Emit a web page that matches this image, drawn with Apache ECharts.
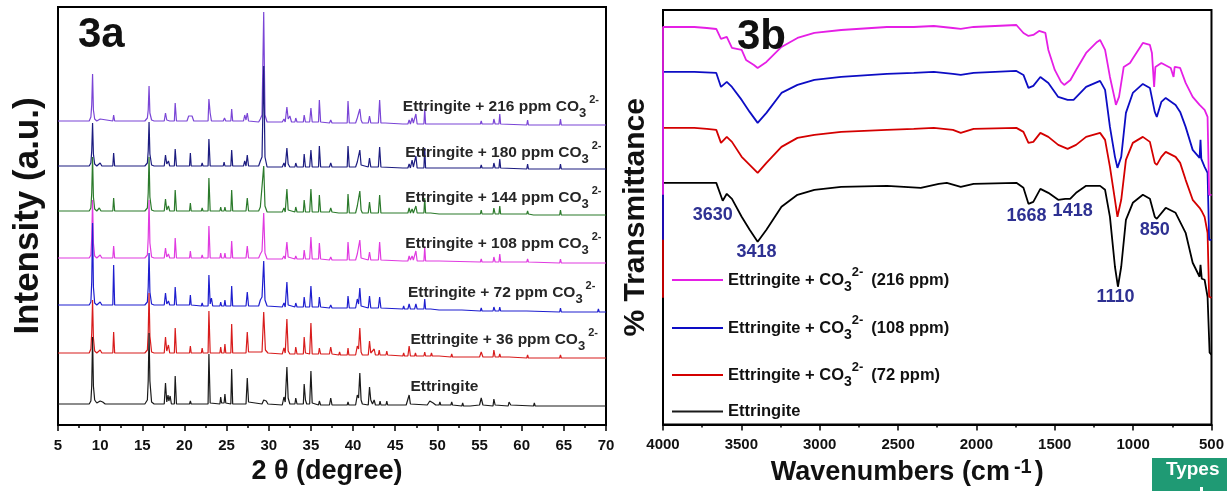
<!DOCTYPE html>
<html><head><meta charset="utf-8">
<script src="https://cdn.jsdelivr.net/npm/echarts/dist/echarts.min.js"></script>
<style>html,body{margin:0;padding:0;background:#fff}#c{width:1227px;height:491px}</style>
</head><body><div id="c"></div><script>
const FONT = 'Liberation Sans, Arial, Helvetica, sans-serif';

// ---------- Fig 3a : XRD patterns [2theta, intensity (a.u.)] ----------
const xrd_0 = [[5,2],[8.7,2],[8.9,5],[9.0,20],[9.1,69],[9.2,20],[9.35,6],[9.6,3],[10.0,5],[10.3,4],[10.6,2],[11.5,2],[11.6,4],[11.7,2],[15.3,2],[15.6,6],[15.7,25],[15.8,73],[15.9,25],[16.1,4],[16.4,2],[17.6,2],[17.75,23],[17.9,4],[18.05,11],[18.15,5],[18.3,10],[18.45,2],[18.8,2],[18.9,30],[19.05,2],[20.6,2],[20.7,5],[20.8,2],[22.0,2],[22.1,4],[22.2,2],[22.8,2],[22.9,52],[23.05,3],[24.2,2],[24.3,9],[24.4,3],[24.7,3],[24.8,12],[24.9,3],[25.5,2],[25.6,37],[25.72,2],[27.3,2],[27.45,28],[27.6,4],[27.8,2],[29.2,2],[29.4,6],[29.7,5],[29.9,2],[31.6,1],[31.8,9],[31.95,4],[32.15,39],[32.3,8],[32.5,2],[33.1,2],[33.2,8],[33.35,2],[34.1,2],[34.2,22],[34.35,6],[34.5,2],[34.85,2],[35.0,35],[35.15,3],[35.9,1],[36.0,5],[36.15,1],[37.2,1],[37.35,8],[37.5,1],[38.3,1],[38.4,3],[38.5,1],[39.3,1],[39.4,4],[39.5,1],[40.3,1],[40.5,11],[40.65,8],[40.8,33],[40.95,6],[41.1,2],[41.8,1],[41.95,19],[42.1,6],[42.3,2],[42.5,6],[42.65,1],[43.1,1],[43.2,5],[43.3,1],[43.9,1],[44.0,5],[44.1,1],[45.9,1],[46.1,3],[46.3,1],[46.5,2],[46.65,11],[46.8,2],[48.8,1],[49.1,5],[49.3,7],[49.5,3],[49.8,1],[50.2,1],[50.3,4],[50.4,1],[51.6,1],[51.7,4],[51.8,1],[52.9,0],[53.0,3],[53.1,0],[53.9,0],[54.0,2],[54.1,0],[55.0,1],[55.2,8],[55.4,1],[56.6,0],[56.7,7],[56.85,1],[58.4,0],[58.5,4],[58.7,1],[61.4,0],[61.5,3],[61.6,0],[61.9,0],[62.0,2],[62.1,0],[63.5,0],[63.6,2],[63.7,0],[67.4,0],[67.5,1],[67.6,0],[69.0,0],[69.1,2],[69.2,0],[70,0]];
const xrd_36 = [[5,5],[8.7,5],[8.9,9],[9.0,25],[9.1,58],[9.2,20],[9.35,7],[9.6,5],[10.0,8],[10.2,5],[11.5,5],[11.6,26],[11.72,5],[15.3,5],[15.6,8],[15.7,25],[15.8,65],[15.9,22],[16.1,6],[16.4,5],[17.6,5],[17.75,21],[17.9,7],[18.1,13],[18.25,5],[18.8,5],[18.9,30],[19.05,5],[20.6,5],[20.7,12],[20.8,5],[22.0,5],[22.1,10],[22.2,5],[22.8,5],[22.9,47],[23.05,5],[24.2,5],[24.3,11],[24.4,5],[24.7,5],[24.8,14],[24.9,5],[25.5,5],[25.6,34],[25.72,5],[27.3,5],[27.45,26],[27.6,6],[27.8,5],[29.2,6],[29.4,46],[29.6,8],[29.9,5],[31.6,4],[31.8,10],[31.95,5],[32.15,39],[32.3,7],[32.5,4],[33.1,4],[33.2,11],[33.35,4],[34.1,4],[34.2,21],[34.35,5],[34.85,4],[35.0,35],[35.15,4],[35.9,4],[36.0,10],[36.15,4],[37.2,4],[37.35,11],[37.5,4],[38.3,3],[38.4,6],[38.5,3],[39.3,3],[39.4,10],[39.5,3],[40.3,3],[40.5,12],[40.65,9],[40.8,30],[40.95,6],[41.1,3],[41.8,3],[41.95,17],[42.1,5],[42.3,3],[42.5,9],[42.65,3],[43.0,3],[43.1,8],[43.2,3],[43.9,3],[44.0,7],[44.1,3],[45.9,2],[46.0,5],[46.1,2],[46.5,2],[46.65,12],[46.8,2],[47.3,2],[47.4,5],[47.5,2],[48.4,2],[48.5,6],[48.6,2],[49.2,2],[49.3,5],[49.4,2],[50.2,2],[50.3,4],[50.4,2],[51.6,1],[51.7,4],[51.8,1],[52.9,1],[53.0,3],[53.1,1],[55.0,1],[55.2,6],[55.4,1],[56.6,1],[56.7,8],[56.85,1],[57.3,1],[57.4,4],[57.5,1],[58.5,1],[58.6,3],[58.7,1],[60.6,0],[60.7,3],[60.8,0],[61.4,0],[61.5,2],[61.6,0],[64.5,0],[64.6,3],[64.7,0],[69.0,0],[69.1,2],[69.2,0],[70,0]];
const xrd_72 = [[5,7],[8.7,7],[8.9,10],[9.0,30],[9.1,89],[9.2,25],[9.35,9],[9.6,7],[10.0,10],[10.2,7],[11.5,7],[11.6,47],[11.72,7],[15.3,7],[15.6,10],[15.7,25],[15.8,59],[15.9,20],[16.1,8],[16.4,7],[17.6,7],[17.75,19],[17.9,8],[18.1,11],[18.25,7],[18.8,7],[18.9,25],[19.05,7],[20.6,7],[20.7,17],[20.8,7],[22.0,6],[22.1,9],[22.2,6],[22.8,6],[22.9,37],[23.05,8],[23.2,14],[23.35,6],[24.2,6],[24.3,10],[24.4,6],[24.7,6],[24.8,12],[24.9,6],[25.5,6],[25.6,26],[25.72,6],[27.3,6],[27.45,20],[27.6,6],[28.8,6],[29.0,12],[29.2,15],[29.4,51],[29.55,12],[29.8,6],[31.6,5],[31.8,9],[31.95,5],[32.15,30],[32.3,7],[32.5,5],[33.1,5],[33.2,9],[33.35,5],[34.1,5],[34.2,15],[34.35,5],[34.85,5],[35.0,26],[35.15,5],[35.9,5],[36.0,15],[36.15,5],[37.2,4],[37.35,7],[37.5,4],[39.3,4],[39.4,16],[39.55,4],[40.3,4],[40.5,13],[40.65,8],[40.8,24],[40.95,6],[41.1,4],[41.8,4],[41.95,16],[42.1,4],[43.0,4],[43.15,15],[43.3,4],[45.9,3],[46.0,6],[46.1,3],[46.5,3],[46.65,8],[46.8,3],[47.3,3],[47.45,8],[47.6,3],[48.4,3],[48.5,13],[48.6,3],[49.2,3],[49.3,5],[49.4,2],[50.2,2],[50.3,4],[50.4,2],[51.6,2],[51.7,4],[51.8,2],[52.9,2],[53.0,3],[53.1,2],[55.1,1],[55.2,4],[55.3,1],[56.6,1],[56.7,5],[56.85,1],[57.3,1],[57.4,5],[57.5,1],[58.5,1],[58.6,2],[58.7,1],[60.6,1],[60.7,3],[60.8,1],[64.5,0],[64.6,4],[64.7,0],[69.0,0],[69.1,3],[69.2,0],[70,0]];
const xrd_108 = [[5,5],[8.7,5],[8.9,8],[9.0,25],[9.1,63],[9.2,20],[9.35,7],[9.6,5],[10.0,8],[10.2,5],[11.5,5],[11.6,17],[11.72,5],[15.3,5],[15.6,8],[15.7,25],[15.8,63],[15.9,20],[16.1,6],[16.4,5],[17.6,5],[17.75,15],[17.9,6],[18.1,9],[18.25,5],[18.8,5],[18.9,25],[19.05,5],[20.6,5],[20.7,12],[20.8,5],[22.0,5],[22.1,8],[22.2,5],[22.8,5],[22.9,37],[23.05,5],[24.2,5],[24.3,10],[24.4,5],[24.7,5],[24.8,10],[24.9,5],[25.5,5],[25.6,22],[25.72,5],[27.3,5],[27.45,17],[27.6,5],[28.8,5],[29.0,9],[29.2,12],[29.4,50],[29.55,10],[29.8,4],[31.6,4],[31.8,7],[31.95,4],[32.15,21],[32.3,6],[32.5,4],[33.1,4],[33.2,7],[33.35,4],[34.1,4],[34.2,13],[34.35,4],[34.85,4],[35.0,26],[35.15,4],[35.9,4],[36.0,20],[36.15,4],[37.2,3],[37.35,6],[37.5,3],[39.3,3],[39.4,21],[39.55,3],[40.3,3],[40.5,9],[40.65,7],[40.8,23],[40.95,5],[41.1,3],[41.8,3],[41.95,11],[42.1,3],[43.0,3],[43.15,21],[43.3,3],[45.9,2],[46.0,4],[46.1,2],[46.5,2],[46.65,7],[46.8,3],[47.0,7],[47.15,3],[47.3,3],[47.45,12],[47.6,2],[48.4,2],[48.5,16],[48.6,2],[49.2,2],[49.3,4],[49.4,2],[50.2,2],[50.3,3],[50.4,2],[55.1,1],[55.2,4],[55.3,1],[56.6,1],[56.7,6],[56.85,1],[57.3,1],[57.4,9],[57.5,1],[60.6,1],[60.7,4],[60.8,1],[64.5,0],[64.6,4],[64.7,0],[70,0]];
const xrd_144 = [[5,4],[8.7,4],[8.9,7],[9.0,22],[9.1,58],[9.2,18],[9.35,6],[9.6,4],[9.9,7],[10.1,4],[11.5,4],[11.6,17],[11.72,4],[15.3,4],[15.6,7],[15.7,22],[15.8,58],[15.9,18],[16.1,5],[16.4,4],[17.6,4],[17.75,16],[17.9,5],[18.1,9],[18.25,4],[18.8,4],[18.9,25],[19.05,4],[20.6,4],[20.7,12],[20.8,4],[22.0,4],[22.1,7],[22.2,4],[22.8,4],[22.9,37],[23.05,4],[24.2,4],[24.3,8],[24.4,4],[24.7,4],[24.8,8],[24.9,4],[25.5,4],[25.6,25],[25.72,4],[27.3,4],[27.45,17],[27.6,4],[28.8,4],[29.0,8],[29.2,10],[29.4,49],[29.55,9],[29.8,3],[31.6,3],[31.8,7],[31.95,3],[32.15,26],[32.3,5],[32.5,3],[33.1,3],[33.2,8],[33.35,3],[34.1,3],[34.2,15],[34.35,3],[34.85,3],[35.0,26],[35.15,3],[35.9,3],[36.0,20],[36.15,3],[37.2,3],[37.35,7],[37.5,3],[38.3,2],[38.4,4],[38.5,2],[39.3,2],[39.4,21],[39.55,2],[40.3,2],[40.5,9],[40.65,8],[40.8,24],[40.95,5],[41.1,2],[41.8,2],[41.95,13],[42.1,2],[43.0,2],[43.15,20],[43.3,2],[45.9,2],[46.0,4],[46.1,2],[46.5,2],[46.65,7],[46.8,2],[47.0,6],[47.15,2],[47.3,2],[47.45,9],[47.6,2],[48.4,2],[48.5,17],[48.6,2],[49.2,2],[49.3,4],[49.4,2],[50.2,1],[50.3,3],[50.4,1],[51.6,1],[51.7,3],[51.8,1],[55.1,1],[55.2,5],[55.3,1],[56.6,1],[56.7,7],[56.85,1],[57.3,1],[57.4,9],[57.5,1],[58.5,1],[58.6,3],[58.7,1],[60.6,1],[60.7,4],[60.8,1],[61.4,0],[61.5,2],[61.6,0],[64.5,0],[64.6,5],[64.7,0],[67.4,0],[67.5,2],[67.6,0],[69.0,0],[69.1,2],[69.2,0],[70,0]];
const xrd_180 = [[5,3],[8.7,3],[8.9,6],[9.0,18],[9.1,46],[9.2,15],[9.35,5],[9.6,3],[10.0,6],[10.2,3],[11.5,3],[11.6,16],[11.72,3],[15.3,3],[15.6,6],[15.7,18],[15.8,47],[15.9,15],[16.1,4],[16.4,3],[17.6,3],[17.75,14],[17.9,5],[18.1,8],[18.25,3],[18.8,3],[18.9,20],[19.05,3],[20.6,3],[20.7,16],[20.8,3],[22.0,3],[22.1,6],[22.2,3],[22.8,3],[22.9,30],[23.05,3],[24.6,3],[24.7,7],[24.8,3],[25.5,3],[25.6,19],[25.72,3],[27.0,3],[27.15,8],[27.3,3],[27.45,14],[27.6,3],[28.8,3],[29.0,8],[29.2,12],[29.4,103],[29.55,12],[29.8,2],[31.6,2],[31.8,6],[31.95,2],[32.15,21],[32.3,5],[32.5,2],[33.1,2],[33.2,6],[33.35,2],[34.1,2],[34.2,15],[34.35,2],[34.85,2],[35.0,19],[35.15,2],[35.9,2],[36.0,23],[36.15,2],[37.2,2],[37.35,6],[37.5,2],[39.3,2],[39.4,23],[39.55,2],[40.3,2],[40.5,7],[40.65,6],[40.8,19],[40.95,4],[41.1,2],[41.8,2],[41.95,11],[42.1,2],[43.0,2],[43.15,22],[43.3,2],[45.9,1],[46.0,3],[46.1,1],[46.5,1],[46.65,5],[46.8,1],[47.0,9],[47.15,2],[47.3,2],[47.45,13],[47.6,1],[48.4,1],[48.5,21],[48.6,1],[49.2,1],[49.3,3],[49.4,1],[50.2,1],[50.3,3],[50.4,1],[51.6,1],[51.7,2],[51.8,1],[55.1,1],[55.2,4],[55.3,1],[56.6,1],[56.7,6],[56.85,1],[57.3,1],[57.4,10],[57.5,1],[60.6,0],[60.7,5],[60.8,0],[64.5,0],[64.6,5],[64.7,0],[69.0,0],[69.1,2],[69.2,0],[70,0]];
const xrd_216 = [[5,4],[8.7,4],[8.9,8],[9.0,20],[9.1,51],[9.2,15],[9.35,6],[9.6,4],[10.0,6],[10.2,4],[11.5,4],[11.6,10],[11.72,4],[15.3,4],[15.6,7],[15.7,15],[15.8,39],[15.9,12],[16.1,5],[16.4,4],[17.6,4],[17.75,12],[17.9,5],[18.1,7],[18.25,4],[18.8,4],[18.9,22],[19.05,4],[20.3,4],[20.5,9],[20.7,7],[20.9,9],[21.1,4],[22.8,4],[22.9,26],[23.05,12],[23.2,4],[24.6,4],[24.75,7],[24.9,4],[25.5,4],[25.6,16],[25.72,4],[27.0,4],[27.15,10],[27.3,5],[27.45,12],[27.6,4],[28.8,3],[29.0,6],[29.2,10],[29.4,113],[29.55,10],[29.8,3],[31.6,3],[31.8,6],[31.95,3],[32.15,18],[32.3,6],[32.5,9],[32.7,3],[33.1,3],[33.2,7],[33.35,3],[34.1,3],[34.2,10],[34.35,3],[34.85,3],[35.0,17],[35.15,3],[35.9,3],[36.0,25],[36.15,3],[37.2,2],[37.35,5],[37.5,2],[39.3,2],[39.4,24],[39.55,2],[40.3,2],[40.5,7],[40.65,8],[40.8,16],[40.95,5],[41.1,2],[41.8,2],[41.95,9],[42.1,2],[43.0,2],[43.15,25],[43.3,2],[43.8,2],[43.9,4],[44.0,2],[45.9,1],[46.0,3],[46.1,1],[46.5,1],[46.65,5],[46.8,1],[47.0,7],[47.15,2],[47.3,2],[47.45,11],[47.6,1],[48.4,1],[48.5,16],[48.6,1],[49.2,1],[49.3,3],[49.4,1],[50.2,1],[50.3,3],[50.4,1],[51.6,1],[51.7,2],[51.8,1],[52.9,1],[53.0,2],[53.1,1],[55.1,1],[55.2,4],[55.3,1],[56.6,1],[56.7,6],[56.85,1],[57.3,1],[57.4,11],[57.5,1],[60.6,0],[60.7,5],[60.8,0],[64.5,0],[64.6,6],[64.7,0],[70,0]];
const xrdNames = ['Ettringite + 216 ppm CO3 2-','Ettringite + 180 ppm CO3 2-','Ettringite + 144 ppm CO3 2-','Ettringite + 108 ppm CO3 2-','Ettringite + 72 ppm CO3 2-','Ettringite + 36 ppm CO3 2-','Ettringite'];
const xrdPpm = ['216','180','144','108','72','36',null];
const xrdData = [xrd_216, xrd_180, xrd_144, xrd_108, xrd_72, xrd_36, xrd_0];
const xrdOffsets = [300, 256, 210, 162, 113, 67, 19];   // vertical stacking offsets
const xrdTicks = [5,10,15,20,25,30,35,40,45,50,55,60,65,70];

// ---------- Fig 3b : FTIR spectra [wavenumber cm-1, %T (offset a.u.)] ----------
const ftir_0 = [[4000,70],[4000,242],[3800,242],[3660,242],[3619,224],[3593,231],[3560,226],[3498,208],[3447,195],[3396,183],[3340,195],[3244,218],[3142,230],[3034,235],[2863,238],[2571,239],[2355,237],[2240,241],[2189,242],[2100,238],[2018,241],[1745,242],[1700,237],[1668,221],[1637,223],[1592,236],[1541,232],[1478,225],[1433,226],[1402,226],[1364,232],[1300,239],[1211,239],[1179,235],[1148,208],[1116,158],[1097,138],[1076,158],[1046,205],[1002,222],[938,230],[893,226],[862,208],[849,206],[792,217],[729,212],[665,192],[620,162],[576,148],[570,160],[562,146],[544,145],[525,128],[512,72],[500,70]];
const ftir_72 = [[4000,127],[4000,297],[3800,297],[3720,296],[3660,295],[3630,282],[3593,288],[3560,283],[3498,268],[3447,260],[3396,252],[3340,262],[3244,278],[3142,287],[3034,290],[2863,293],[2571,295],[2400,296],[2272,297],[2150,295],[2100,292],[2018,296],[1745,297],[1700,293],[1668,282],[1637,283],[1592,292],[1541,288],[1478,280],[1418,276],[1364,280],[1300,288],[1211,292],[1179,285],[1148,258],[1116,225],[1100,208],[1076,225],[1046,265],[1002,282],[938,288],[893,283],[862,262],[849,260],[820,268],[792,273],[729,268],[700,262],[665,245],[620,225],[576,217],[560,213],[544,208],[525,192],[515,128],[500,127]];
const ftir_108 = [[4000,185],[4000,353],[3800,353],[3660,352],[3630,338],[3593,343],[3560,338],[3498,325],[3447,313],[3396,302],[3340,312],[3244,332],[3142,340],[3034,345],[2863,348],[2571,351],[2400,352],[2272,353],[2150,351],[2100,350],[2018,352],[1745,354],[1700,350],[1668,337],[1637,339],[1592,348],[1541,342],[1478,328],[1418,325],[1380,325],[1300,338],[1211,344],[1179,335],[1148,298],[1116,268],[1100,257],[1076,268],[1046,312],[1002,332],[938,341],[893,337],[862,313],[849,308],[820,323],[792,327],[729,320],[700,313],[665,298],[620,275],[576,267],[570,285],[565,266],[544,258],[525,252],[515,185],[500,185]];
const ftir_216 = [[4000,230],[4000,398],[3800,398],[3720,397],[3660,396],[3630,386],[3593,388],[3560,377],[3498,375],[3470,365],[3420,360],[3396,357],[3340,363],[3244,378],[3142,387],[3034,392],[2863,395],[2571,398],[2400,398],[2272,399],[2150,397],[2100,396],[2018,398],[1745,400],[1700,392],[1668,389],[1637,390],[1600,394],[1560,392],[1541,375],[1500,355],[1460,343],[1440,340],[1400,345],[1364,355],[1300,372],[1230,383],[1211,385],[1179,375],[1148,348],[1116,325],[1110,320],[1090,328],[1060,358],[1020,362],[1000,367],[938,382],[893,380],[880,372],[866,338],[858,358],[820,362],[760,357],[742,348],[735,358],[700,357],[665,342],[620,328],[576,320],[544,315],[525,308],[515,230],[500,230]];
const ftirNames = ['Ettringite', 'Ettringite + CO3 2- (72 ppm)', 'Ettringite + CO3 2- (108 ppm)', 'Ettringite + CO3 2- (216 ppm)'];
const ftirPpm = [null, '72', '108', '216'];
const ftirData = [ftir_0, ftir_72, ftir_108, ftir_216];
const ftirPeaks = ['3630', '3418', '1668', '1418', '850', '1110'];
const ftirPeakAnchor = [[3682,210],[3403,173],[1681,209],[1386,214],[862,195],[1113,128]];
const ftirTicks = [4000,3500,3000,2500,2000,1500,1000,500];

// ---------- styling ----------
const xrdColors = ['#7a45d6', '#1c1c80', '#2b7a2b', '#e03ae0', '#1e1ecf', '#d81c1c', '#1a1a1a'];
const ftirColors = ['#000000', '#d40000', '#0d0dc4', '#e51fe5'];
const labelTop = [318, 272, 227, 181, 132, 85, 38];
const labelLeft = [45.9, 46.2, 46.2, 46.2, 46.5, 46.8, 46.8];

const chart = echarts.init(document.getElementById('c'), null, {renderer: 'canvas'});

const xrdRich = {
  t: {fontFamily: FONT, fontWeight: 'bold', fontSize: 15.5, color: '#262626', lineHeight: 26},
  s: {fontFamily: FONT, fontWeight: 'bold', fontSize: 13, color: '#262626', lineHeight: 12, verticalAlign: 'bottom'},
  p: {fontFamily: FONT, fontWeight: 'bold', fontSize: 11, color: '#262626', lineHeight: 10, verticalAlign: 'top', padding: [0,0,0,3]}
};
const legRich = {
  t: {fontFamily: FONT, fontWeight: 'bold', fontSize: 16.5, color: '#111', lineHeight: 28},
  s: {fontFamily: FONT, fontWeight: 'bold', fontSize: 14, color: '#111', lineHeight: 13, verticalAlign: 'bottom'},
  p: {fontFamily: FONT, fontWeight: 'bold', fontSize: 13, color: '#111', lineHeight: 11, verticalAlign: 'top', padding: [0,8,0,0]}
};

const series = [];
xrdData.forEach((d, i) => {
  const off = xrdOffsets[i];
  const txt = xrdPpm[i] ? '{t|Ettringite + ' + xrdPpm[i] + ' ppm CO}{s|3}{p|2-}' : '{t|Ettringite}';
  series.push({
    name: xrdNames[i], type: 'line', xAxisIndex: 0, yAxisIndex: 0,
    data: d.map(p => [p[0], p[1] + off]),
    showSymbol: false, symbol: 'none', animation: false, silent: true,
    color: xrdColors[i],
    lineStyle: {color: xrdColors[i], width: 1.2},
    markPoint: {
      symbol: 'circle', symbolSize: 0, silent: true, animation: false,
      data: [{coord: [labelLeft[i], labelTop[i]], name: 'lbl'}],
      label: {show: true, position: 'right', distance: 0, formatter: txt, rich: xrdRich}
    }
  });
});
ftirData.forEach((d, i) => {
  const s = {
    name: ftirNames[i], type: 'line', xAxisIndex: 1, yAxisIndex: 1, z: 5,
    data: d, showSymbol: false, symbol: 'none', animation: false, silent: true,
    color: ftirColors[i],
    lineStyle: {color: ftirColors[i], width: 1.8}
  };
  if (i === 0) {
    s.markPoint = {
      symbol: 'circle', symbolSize: 0, silent: true, animation: false,
      data: ftirPeaks.map((p, k) => ({name: p, coord: ftirPeakAnchor[k]})),
      label: {show: true, position: 'inside', formatter: '{b}', color: '#2e3192',
              fontFamily: FONT, fontWeight: 'bold', fontSize: 18}
    };
  }
  series.push(s);
});

const legendRowTop = [403, 361, 314, 266];
const legends = ftirNames.map((n, i) => ({
  data: [n], left: 672, top: legendRowTop[i], orient: 'horizontal', padding: 0,
  icon: 'rect', itemWidth: 51, itemHeight: 2, selectedMode: false,
  formatter: () => ftirPpm[i] ? '{t|Ettringite + CO}{s|3}{p|2-}{t|(' + ftirPpm[i] + ' ppm)}' : '{t|Ettringite}',
  textStyle: {rich: legRich}
}));

const axisLabelStyle = {fontFamily: FONT, fontWeight: 'bold', fontSize: 15, color: '#111', margin: 13};

chart.setOption({
  animation: false,
  backgroundColor: '#ffffff',
  grid: [
    {left: 58, top: 7, width: 548, height: 418, show: true, borderColor: '#000', borderWidth: 2, backgroundColor: 'transparent'},
    {left: 663, top: 10, width: 551, height: 415, show: true, borderColor: '#000', borderWidth: 2, backgroundColor: 'transparent'}
  ],
  xAxis: [
    {gridIndex: 0, type: 'value', min: 5, max: 70, interval: 5,
     axisLine: {lineStyle: {color: '#000', width: 2}},
     axisTick: {show: true, inside: false, length: 6, lineStyle: {color: '#000', width: 1.5}},
     minorTick: {show: true, splitNumber: 2, length: 3, lineStyle: {color: '#000', width: 1.5}},
     splitLine: {show: false},
     axisLabel: Object.assign({formatter: v => xrdTicks.includes(v) ? String(v) : ''}, axisLabelStyle),
     name: '2 θ (degree)', nameLocation: 'middle', nameGap: 32,
     nameTextStyle: {fontFamily: FONT, fontWeight: 'bold', fontSize: 27, color: '#111', padding: [0, 10, 0, 0]}},
    {gridIndex: 1, type: 'value', min: 500, max: 4000, interval: 500, inverse: true,
     axisLine: {lineStyle: {color: '#000', width: 2}},
     axisTick: {show: true, inside: false, length: 6, lineStyle: {color: '#000', width: 1.5}},
     minorTick: {show: true, splitNumber: 2, length: 3, lineStyle: {color: '#000', width: 1.5}},
     splitLine: {show: false},
     axisLabel: Object.assign({formatter: v => ftirTicks.includes(v) ? String(v) : ''}, axisLabelStyle),
     name: '{t|Wavenumbers (cm}{p|-1}{t|)}', nameLocation: 'middle', nameGap: 30,
     nameTextStyle: {padding: [0, 60, 0, 0], rich: {
       t: {fontFamily: FONT, fontWeight: 'bold', fontSize: 27, color: '#111', lineHeight: 30},
       p: {fontFamily: FONT, fontWeight: 'bold', fontSize: 20, color: '#111', lineHeight: 16, verticalAlign: 'top', padding: [0,3,0,4]}
     }}}
  ],
  yAxis: [
    {gridIndex: 0, type: 'value', min: 0, max: 418,
     axisLine: {show: true, lineStyle: {color: '#000', width: 2}},
     axisTick: {show: false}, axisLabel: {show: false}, splitLine: {show: false},
     name: 'Intensity (a.u.)', nameLocation: 'middle', nameGap: 12, nameRotate: 90,
     nameTextStyle: {fontFamily: FONT, fontWeight: 'bold', fontSize: 35, color: '#111'}},
    {gridIndex: 1, type: 'value', min: 0, max: 415,
     axisLine: {show: true, lineStyle: {color: '#000', width: 2}},
     axisTick: {show: false}, axisLabel: {show: false}, splitLine: {show: false},
     name: '% Transmittance', nameLocation: 'middle', nameGap: 12, nameRotate: 90,
     nameTextStyle: {fontFamily: FONT, fontWeight: 'bold', fontSize: 30, color: '#111'}}
  ],
  legend: legends,
  series: series,
  graphic: [
    {type: 'text', left: 78, top: 14, z: 100, style: {text: '3a', font: 'bold 42px ' + FONT, fill: '#111'}},
    {type: 'text', left: 737, top: 16, z: 100, style: {text: '3b', font: 'bold 42px ' + FONT, fill: '#111'}},
    {type: 'rect', left: 1152, top: 458, z: 100, shape: {width: 75, height: 33}, style: {fill: '#1f9a74'}},
    {type: 'text', left: 1166, top: 460, z: 101, style: {text: 'Types', font: 'bold 19px ' + FONT, fill: '#fff'}},
    {type: 'rect', left: 1200, top: 487, z: 101, shape: {width: 3, height: 4}, style: {fill: '#fff'}}
  ]
});
</script></body></html>
